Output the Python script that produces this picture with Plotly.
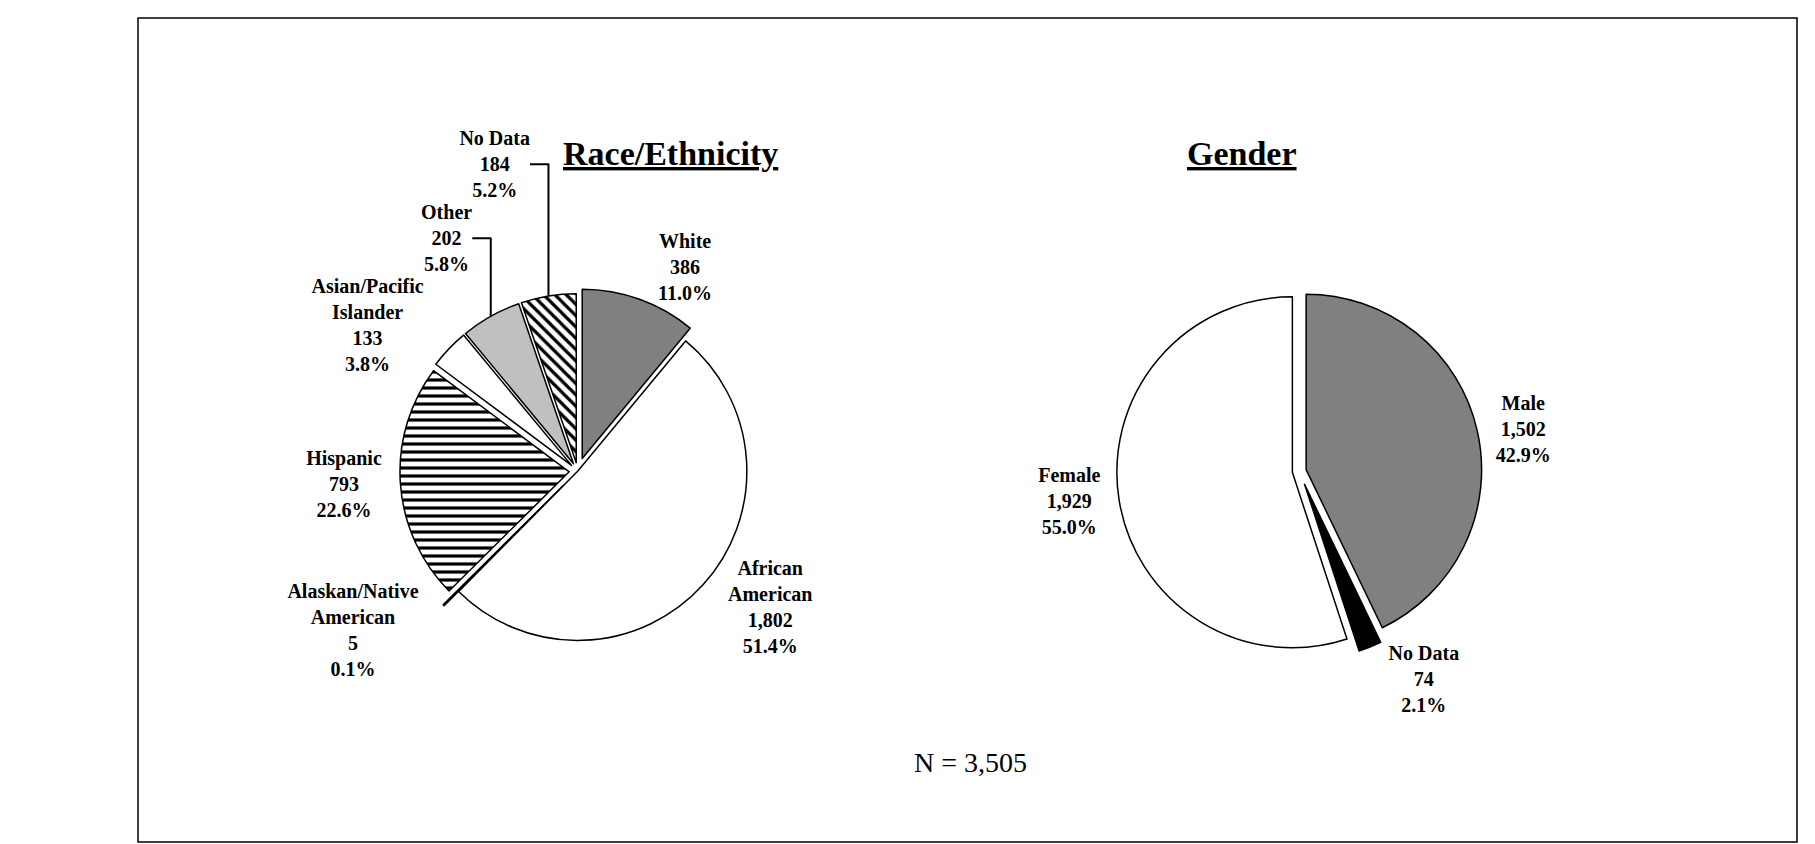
import plotly.graph_objects as go

race_labels = ["White", "African<br>American", "Alaskan/Native<br>American", "Hispanic", "Asian/Pacific<br>Islander", "Other", "No Data"]
race_values = [386, 1802, 5, 793, 133, 202, 184]
race_pct = ["11.0%", "51.4%", "0.1%", "22.6%", "3.8%", "5.8%", "5.2%"]
race_colors = ["#808080", "#ffffff", "#000000", "#ffffff", "#ffffff", "#c0c0c0", "#ffffff"]
race_shapes = ["", "", "", "-", "", "", "\\"]

gender_labels = ["Male", "No Data", "Female"]
gender_values = [1502, 74, 1929]
gender_pct = ["42.9%", "2.1%", "55.0%"]
gender_colors = ["#808080", "#000000", "#ffffff"]

font = "Liberation Serif, Times New Roman, serif"

def fmt(v):
    return [f"{x:,}" for x in v]

fig = go.Figure()
fig.add_trace(go.Pie(
    labels=race_labels, values=race_values, sort=False, direction="clockwise", rotation=0,
    customdata=list(zip(fmt(race_values), race_pct)),
    texttemplate="<b>%{label}<br>%{customdata[0]}<br>%{customdata[1]}</b>",
    textposition="outside", textfont=dict(family=font, size=20, color="black"),
    marker=dict(colors=race_colors, line=dict(color="black", width=1.5),
                pattern=dict(shape=race_shapes, fgcolor="black", size=8, solidity=0.4)),
    pull=[0.08, 0, 0.12, 0.05, 0.05, 0.05, 0.05],
    domain=dict(x=[0.08, 0.45], y=[0.22, 0.68]), showlegend=False, hoverinfo="skip"))
fig.add_trace(go.Pie(
    labels=gender_labels, values=gender_values, sort=False, direction="clockwise", rotation=0,
    customdata=list(zip(fmt(gender_values), gender_pct)),
    texttemplate="<b>%{label}<br>%{customdata[0]}<br>%{customdata[1]}</b>",
    textposition="outside", textfont=dict(family=font, size=20, color="black"),
    marker=dict(colors=gender_colors, line=dict(color="black", width=1.5)),
    pull=[0.04, 0.08, 0.04],
    domain=dict(x=[0.53, 0.87], y=[0.22, 0.68]), showlegend=False, hoverinfo="skip"))

fig.update_layout(
    autosize=True, paper_bgcolor="white", plot_bgcolor="white",
    margin=dict(l=10, r=10, t=10, b=10),
    font=dict(family=font, color="black"),
    shapes=[dict(type="rect", xref="paper", yref="paper", x0=0, y0=0, x1=1, y1=1,
                 line=dict(color="black", width=1.5))],
    annotations=[
        dict(text="<b><u>Race/Ethnicity</u></b>", x=0.255, y=0.86, xref="paper", yref="paper",
             showarrow=False, font=dict(size=34, family=font)),
        dict(text="<b><u>Gender</u></b>", x=0.70, y=0.86, xref="paper", yref="paper",
             showarrow=False, font=dict(size=34, family=font)),
        dict(text="N = 3,505", x=0.502, y=0.075, xref="paper", yref="paper",
             showarrow=False, font=dict(size=28, family=font)),
    ])
fig.write_html("out.html", default_width="100%", default_height="100vh",
               config={"responsive": True})
